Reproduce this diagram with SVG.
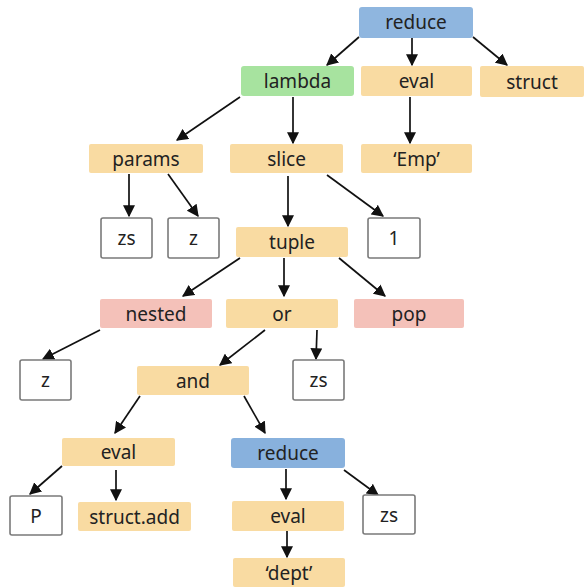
<svg xmlns="http://www.w3.org/2000/svg" width="585" height="588" viewBox="0 0 585 588">
<style>
.n text{font-family:"Noto Sans","Open Sans",sans-serif;font-size:19px;fill:#222;text-anchor:middle;dominant-baseline:central}
.o{fill:#f9dba2}.b{fill:#8fb6df}.b2{fill:#88b1dd}.g{fill:#a7e39f}.p{fill:#f4c1b9}.w{fill:#fff;stroke:#7a7a7a;stroke-width:1.6}
#edges line{stroke:#111;stroke-width:1.7;marker-end:url(#ah)}
</style>
<defs>
<marker id="ah" viewBox="0 0 10 10" refX="9" refY="5" markerWidth="12" markerHeight="12" markerUnits="userSpaceOnUse" orient="auto">
<path d="M0,0 L10,5 L0,10 z" fill="#111"/>
</marker>
</defs>
<rect width="585" height="588" fill="#fff"/>
<g id="edges">
<line x1="359" y1="37" x2="327" y2="65"/>
<line x1="412" y1="38" x2="412" y2="65"/>
<line x1="473" y1="37" x2="507" y2="65"/>
<line x1="240" y1="97" x2="177" y2="140"/>
<line x1="293" y1="97" x2="293" y2="143"/>
<line x1="410" y1="97" x2="410" y2="143"/>
<line x1="129" y1="174" x2="129" y2="216"/>
<line x1="168" y1="174" x2="198" y2="216"/>
<line x1="288" y1="176" x2="288" y2="226"/>
<line x1="327" y1="175" x2="383" y2="216"/>
<line x1="240" y1="258" x2="183" y2="296"/>
<line x1="284" y1="258" x2="284" y2="296"/>
<line x1="339" y1="258" x2="385" y2="296"/>
<line x1="100" y1="330" x2="43" y2="359"/>
<line x1="265" y1="330" x2="220" y2="365"/>
<line x1="317" y1="330" x2="316" y2="359"/>
<line x1="140" y1="396" x2="115" y2="433"/>
<line x1="244" y1="396" x2="265" y2="433"/>
<line x1="62" y1="466" x2="30" y2="494"/>
<line x1="116" y1="470" x2="116" y2="500"/>
<line x1="286" y1="469" x2="286" y2="499"/>
<line x1="344" y1="470" x2="378" y2="495"/>
<line x1="287" y1="531" x2="287" y2="557"/>
</g>
<g id="reduce1" class="n"><rect class="b" x="359" y="7" width="114" height="31" rx="3"/><text x="416" y="22">reduce</text></g>
<g id="lambda" class="n"><rect class="g" x="241" y="66" width="113" height="30" rx="3"/><text x="297.5" y="81">lambda</text></g>
<g id="eval1" class="n"><rect class="o" x="361" y="66" width="111" height="30" rx="2"/><text x="416.5" y="81">eval</text></g>
<g id="struct" class="n"><rect class="o" x="480" y="66" width="104" height="31" rx="2"/><text x="532" y="82">struct</text></g>
<g id="params" class="n"><rect class="o" x="89" y="144" width="114" height="29" rx="2"/><text x="146" y="158.5">params</text></g>
<g id="slice" class="n"><rect class="o" x="230" y="144" width="113" height="29" rx="2"/><text x="286.5" y="158.5">slice</text></g>
<g id="emp" class="n"><rect class="o" x="361" y="144" width="111" height="29" rx="2"/><text x="416.5" y="158.5">‘Emp’</text></g>
<g id="zs1" class="n"><rect class="w" x="101" y="218" width="51" height="40" rx="2"/><text x="126.5" y="238">zs</text></g>
<g id="z1" class="n"><rect class="w" x="168" y="218" width="51" height="40" rx="2"/><text x="193.5" y="238">z</text></g>
<g id="tuple" class="n"><rect class="o" x="236" y="227" width="112" height="30" rx="2"/><text x="292" y="242">tuple</text></g>
<g id="one" class="n"><rect class="w" x="368" y="218" width="52" height="40" rx="2"/><text x="394" y="238">1</text></g>
<g id="nested" class="n"><rect class="p" x="100" y="299" width="112" height="29" rx="2"/><text x="156" y="313.5">nested</text></g>
<g id="or" class="n"><rect class="o" x="226" y="299" width="112" height="29" rx="2"/><text x="282" y="313.5">or</text></g>
<g id="pop" class="n"><rect class="p" x="354" y="299" width="110" height="29" rx="2"/><text x="409" y="313.5">pop</text></g>
<g id="z2" class="n"><rect class="w" x="20" y="360" width="51" height="40" rx="2"/><text x="45.5" y="380">z</text></g>
<g id="and" class="n"><rect class="o" x="137" y="366" width="112" height="29" rx="2"/><text x="193" y="380.5">and</text></g>
<g id="zs2" class="n"><rect class="w" x="293" y="360" width="51" height="40" rx="2"/><text x="318.5" y="380">zs</text></g>
<g id="eval2" class="n"><rect class="o" x="62" y="438" width="113" height="28" rx="2"/><text x="118.5" y="452">eval</text></g>
<g id="reduce2" class="n"><rect class="b2" x="231" y="438" width="114" height="30" rx="3"/><text x="288" y="453">reduce</text></g>
<g id="P" class="n"><rect class="w" x="10" y="496" width="52" height="39" rx="2"/><text x="36" y="515.5">P</text></g>
<g id="structadd" class="n"><rect class="o" x="78" y="502" width="113" height="29" rx="2"/><text x="134.5" y="516.5">struct.add</text></g>
<g id="eval3" class="n"><rect class="o" x="232" y="501" width="112" height="30" rx="2"/><text x="288" y="516">eval</text></g>
<g id="zs3" class="n"><rect class="w" x="363" y="495" width="52" height="39" rx="2"/><text x="389" y="514.5">zs</text></g>
<g id="dept" class="n"><rect class="o" x="233" y="558" width="112" height="29" rx="2"/><text x="289" y="572.5">‘dept’</text></g>
</svg>
